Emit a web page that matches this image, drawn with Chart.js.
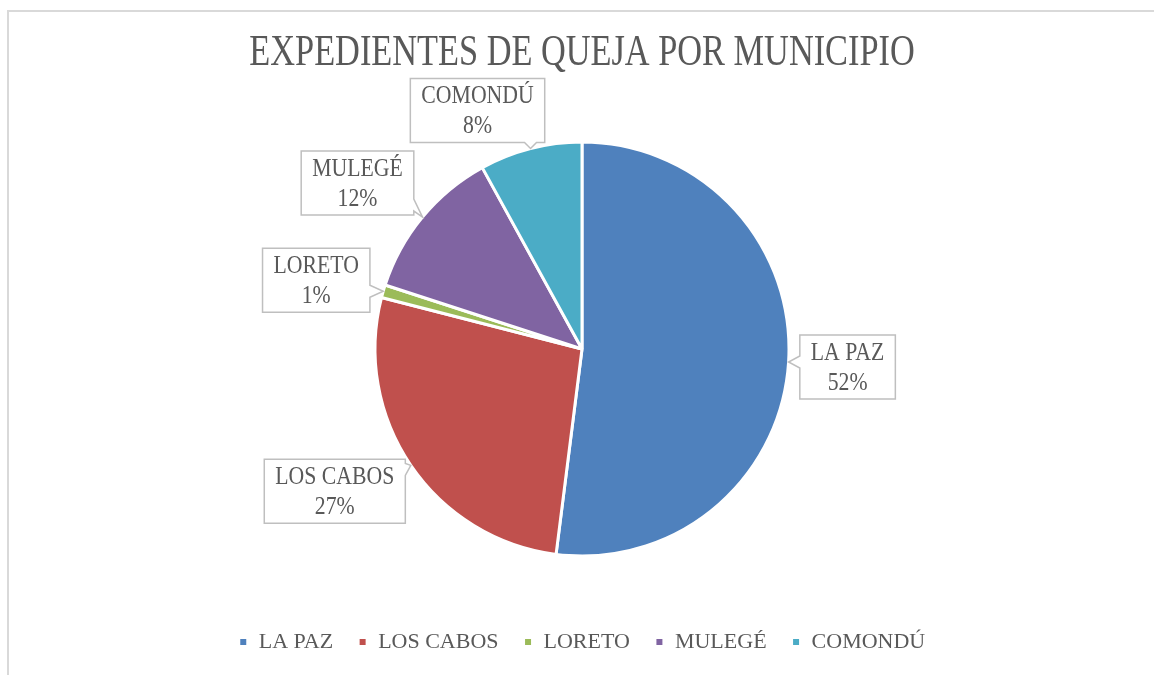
<!DOCTYPE html>
<html>
<head>
<meta charset="utf-8">
<script src="https://cdn.jsdelivr.net/npm/chart.js@4.4.0/dist/chart.umd.min.js"></script>
<style>
  html, body { margin: 0; padding: 0; background: #fff; }
  #marco { position: absolute; left: 7px; top: 10px; width: 1200px; height: 700px;
           border-top: 2px solid #d9d9d9; border-left: 2px solid #d9d9d9; }
  #wrap { position: absolute; left: 0; top: 0; width: 1154px; height: 675px; }
</style>
</head>
<body>
<div id="marco"></div>
<div id="wrap"><canvas id="grafica"></canvas></div>
<script>
// datos
const municipios = ["LA PAZ", "LOS CABOS", "LORETO", "MULEGÉ", "COMONDÚ"];
const porcentajes = [52, 27, 1, 12, 8];
const colores = ["#4F81BD", "#C0504D", "#9BBB59", "#8064A2", "#4BACC6"];
const titulo = "EXPEDIENTES DE QUEJA POR MUNICIPIO";

const fuente = "'Liberation Serif', serif";
const gris = "#595959";

// desplazamiento de cada etiqueta respecto al borde de su sector
const desplazEtiqueta = [[59, 5], [-76, 26], [-67, -11], [-65, -34], [-53, -38]];

// texto algo estrecho, como la fuente original
function textoEstrecho(ctx, texto, x, y, escala) {
  ctx.save();
  ctx.translate(x, y);
  ctx.scale(escala, 1);
  ctx.fillText(texto, 0, 0);
  ctx.restore();
}

const tituloEstrecho = {
  id: "tituloEstrecho",
  afterDraw(chart) {
    const ctx = chart.ctx;
    const area = chart.chartArea;
    ctx.save();
    ctx.font = "44px " + fuente;
    ctx.fillStyle = gris;
    ctx.textAlign = "center";
    ctx.textBaseline = "middle";
    textoEstrecho(ctx, titulo, (area.left + area.right) / 2, 53, 0.78);
    ctx.restore();
  }
};

// etiquetas tipo "globo" como en Excel
const etiquetasGlobo = {
  id: "etiquetasGlobo",
  afterDatasetsDraw(chart) {
    const ctx = chart.ctx;
    const meta = chart.getDatasetMeta(0);
    const datos = chart.data.datasets[0].data;
    const total = datos.reduce((a, b) => a + b, 0);
    const esc = 0.87;
    ctx.save();
    ctx.font = "25px " + fuente;
    meta.data.forEach((arc, i) => {
      const p = arc.getProps(["x", "y", "startAngle", "endAngle", "outerRadius"], true);
      const medio = (p.startAngle + p.endAngle) / 2;
      const ax = p.x + Math.cos(medio) * p.outerRadius;
      const ay = p.y + Math.sin(medio) * p.outerRadius;
      const cx = ax + desplazEtiqueta[i][0];
      const cy = ay + desplazEtiqueta[i][1];
      const lineas = [municipios[i], Math.round(datos[i] / total * 100) + "%"];
      const w = Math.max(...lineas.map(t => ctx.measureText(t).width)) * esc + 22;
      const h = 64;
      const l = cx - w / 2, r = cx + w / 2, t = cy - h / 2, b = cy + h / 2;
      const clamp = (v, a, z) => Math.max(a, Math.min(z, v));
      // contorno con la punta hacia el sector
      ctx.beginPath();
      ctx.moveTo(l, t);
      if (ay < t && ax >= l && ax <= r) {
        const m = clamp(ax, l + 10, r - 10);
        ctx.lineTo(m - 6, t); ctx.lineTo(ax, ay); ctx.lineTo(m + 6, t);
      }
      ctx.lineTo(r, t);
      if (ax > r) {
        const m = clamp(ay, t + 10, b - 10);
        ctx.lineTo(r, m - 6); ctx.lineTo(ax, ay); ctx.lineTo(r, m + 6);
      }
      ctx.lineTo(r, b);
      if (ay > b && ax >= l && ax <= r) {
        const m = clamp(ax, l + 10, r - 10);
        ctx.lineTo(m + 6, b); ctx.lineTo(ax, ay); ctx.lineTo(m - 6, b);
      }
      ctx.lineTo(l, b);
      if (ax < l) {
        const m = clamp(ay, t + 10, b - 10);
        ctx.lineTo(l, m + 6); ctx.lineTo(ax, ay); ctx.lineTo(l, m - 6);
      }
      ctx.closePath();
      ctx.fillStyle = "#fff";
      ctx.fill();
      ctx.strokeStyle = "#bfbfbf";
      ctx.lineWidth = 1.5;
      ctx.stroke();
      ctx.fillStyle = gris;
      ctx.textAlign = "center";
      ctx.textBaseline = "middle";
      textoEstrecho(ctx, lineas[0], cx, cy - 14, esc);
      textoEstrecho(ctx, lineas[1], cx, cy + 16, esc);
    });
    ctx.restore();
  }
};

new Chart(document.getElementById("grafica"), {
  type: "pie",
  data: {
    labels: municipios,
    datasets: [{
      data: porcentajes,
      backgroundColor: colores,
      borderColor: "#fff",
      borderWidth: 3
    }]
  },
  options: {
    responsive: true,
    maintainAspectRatio: false,
    animation: false,
    radius: 207,
    layout: { padding: { left: 10, right: 0, top: 92, bottom: 12 } },
    plugins: {
      title: { display: false },
      legend: {
        position: "bottom",
        labels: {
          color: gris,
          font: { family: fuente, size: 22 },
          boxWidth: 9,
          boxHeight: 9,
          padding: 25
        }
      },
      tooltip: { enabled: false }
    }
  },
  plugins: [etiquetasGlobo, tituloEstrecho]
});
</script>
</body>
</html>
